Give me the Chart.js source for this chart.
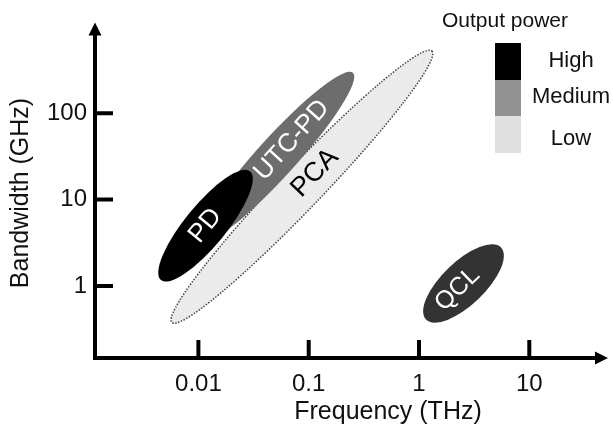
<!DOCTYPE html>
<html><head><meta charset="utf-8">
<script src="https://cdn.jsdelivr.net/npm/chart.js@4/dist/chart.umd.min.js"></script>
<style>html,body{margin:0;padding:0;background:#fff}#wrap{width:613px;height:436px}</style>
</head><body><div id="wrap"><canvas id="c" width="613" height="436"></canvas></div>
<script>
// ---- data ----
const sources   = ['PCA', 'UTC-PD', 'PD', 'QCL'];     // drawing order (bottom to top)
const freqLow   = [0.00576, 0.01035, 0.00458, 1.157];  // THz, lower-left end of each region
const bwLow     = [0.378,   3.27,    1.17,    0.409];  // GHz
const freqHigh  = [1.31,    0.252,   0.0294,  5.54];   // THz, upper-right end of each region
const bwHigh    = [525,     294,     21.2,    2.79];   // GHz
const xTicks    = [0.01, 0.1, 1, 10];
const xTickLabels = ['0.01', '0.1', '1', '10'];
const yTicks    = [1, 10, 100];
const yTickLabels = ['1', '10', '100'];
const powerLevels = ['High', 'Medium', 'Low'];
const xTitle = 'Frequency (THz)';
const yTitle = 'Bandwidth (GHz)';
const legendTitle = 'Output power';

// ---- styles ----
const FONT = "'Liberation Sans', Arial, Helvetica, sans-serif";
const regionStyle = {
  'PCA':    {fill:'#ebebeb', text:'#000', thick:42, t:0.55, size:27, dotted:true},
  'UTC-PD': {fill:'#6d6d6d', text:'#fff', thick:39, t:0.60, size:26},
  'PD':     {fill:'#000000', text:'#fff', thick:41, t:0.50, size:26},
  'QCL':    {fill:'#333333', text:'#fff', thick:43, t:0.42, size:25}
};
const levelColors = ['#000000', '#929292', '#e0e0e0'];

const drawPlugin = {
  id: 'regions',
  beforeDatasetsDraw(chart) {
    const ctx = chart.ctx, xs = chart.scales.x, ys = chart.scales.y;
    const geo = sources.map((n, i) => {
      const x1 = xs.getPixelForValue(freqLow[i]), y1 = ys.getPixelForValue(bwLow[i]);
      const x2 = xs.getPixelForValue(freqHigh[i]), y2 = ys.getPixelForValue(bwHigh[i]);
      return {x1, y1, x2, y2, cx:(x1+x2)/2, cy:(y1+y2)/2, a:Math.hypot(x2-x1, y2-y1)/2, ang:Math.atan2(y2-y1, x2-x1)};
    });
    ctx.save();
    sources.forEach((n, i) => {
      const g = geo[i], st = regionStyle[n];
      ctx.beginPath();
      ctx.ellipse(g.cx, g.cy, g.a, st.thick/2, g.ang, 0, Math.PI*2);
      ctx.fillStyle = st.fill;
      ctx.fill();
      if (st.dotted) {
        ctx.setLineDash([1.5, 1.5]);
        ctx.lineWidth = 1.5;
        ctx.strokeStyle = '#444';
        ctx.stroke();
        ctx.setLineDash([]);
      }
    });
    sources.forEach((n, i) => {
      const g = geo[i], st = regionStyle[n];
      const px = g.x1 + (g.x2 - g.x1)*st.t, py = g.y1 + (g.y2 - g.y1)*st.t;
      ctx.save();
      ctx.translate(px, py);
      ctx.rotate(g.ang);
      ctx.font = st.size + 'px ' + FONT;
      ctx.fillStyle = st.text;
      ctx.textAlign = 'center';
      ctx.textBaseline = 'middle';
      ctx.fillText(n, 0, 0);
      ctx.restore();
    });
    ctx.restore();
  },
  afterDraw(chart) {
    const ctx = chart.ctx, xs = chart.scales.x, ys = chart.scales.y, ca = chart.chartArea;
    ctx.save();
    ctx.strokeStyle = '#000'; ctx.fillStyle = '#000';
    ctx.lineWidth = 4; ctx.lineCap = 'butt';
    // axes
    ctx.beginPath();
    ctx.moveTo(ca.left, ca.bottom + 2); ctx.lineTo(ca.left, ca.top + 10);
    ctx.moveTo(ca.left - 2, ca.bottom); ctx.lineTo(ca.right - 10, ca.bottom);
    ctx.stroke();
    // arrows
    ctx.beginPath();
    ctx.moveTo(ca.left, ca.top); ctx.lineTo(ca.left - 6.5, ca.top + 13); ctx.lineTo(ca.left + 6.5, ca.top + 13); ctx.closePath();
    ctx.fill();
    ctx.beginPath();
    ctx.moveTo(ca.right, ca.bottom); ctx.lineTo(ca.right - 13, ca.bottom - 6.5); ctx.lineTo(ca.right - 13, ca.bottom + 6.5); ctx.closePath();
    ctx.fill();
    // tick marks (inside)
    ctx.beginPath();
    yTicks.forEach(v => { const p = ys.getPixelForValue(v); ctx.moveTo(ca.left, p); ctx.lineTo(ca.left + 18, p); });
    xTicks.forEach(v => { const p = xs.getPixelForValue(v); ctx.moveTo(p, ca.bottom); ctx.lineTo(p, ca.bottom - 18); });
    ctx.stroke();
    // axis titles
    ctx.font = '25px ' + FONT;
    ctx.textAlign = 'center'; ctx.textBaseline = 'middle';
    ctx.fillStyle = '#111';
    ctx.fillText(xTitle, 388, 412);
    ctx.save(); ctx.translate(21, 193); ctx.rotate(-Math.PI/2); ctx.fillText(yTitle, 0, 0); ctx.restore();
    // legend
    ctx.font = '21px ' + FONT;
    ctx.fillText(legendTitle, 505, 21);
    const boxTops = [43, 80, 116, 153];
    const labelY = [61, 97, 139];
    ctx.font = '22px ' + FONT;
    powerLevels.forEach((lv, i) => {
      ctx.fillStyle = levelColors[i];
      ctx.fillRect(495, boxTops[i], 26, boxTops[i+1] - boxTops[i]);
      ctx.fillStyle = '#111';
      ctx.fillText(lv, 571, labelY[i]);
    });
    ctx.restore();
  }
};

new Chart(document.getElementById('c').getContext('2d'), {
  type: 'scatter',
  data: {
    datasets: sources.map((n, i) => ({
      label: n,
      data: [{x: freqLow[i], y: bwLow[i]}, {x: freqHigh[i], y: bwHigh[i]}],
      pointRadius: 0, showLine: false
    }))
  },
  options: {
    responsive: false, animation: false, devicePixelRatio: 1,
    layout: {padding: {left: 0, right: 5, top: 18, bottom: 0}},
    plugins: {legend: {display: false}, tooltip: {enabled: false}},
    scales: {
      x: {
        type: 'logarithmic', min: 0.001155, max: 51.7,
        grid: {display: false, drawTicks: false}, border: {display: false},
        afterBuildTicks: s => { s.ticks = xTicks.map(v => ({value: v})); },
        afterFit: s => { s.height = 78; },
        ticks: {color: '#111', font: {family: FONT, size: 24}, padding: 12, maxRotation: 0, autoSkip: false,
                callback: (v, i) => xTickLabels[i]}
      },
      y: {
        type: 'logarithmic', min: 0.1465, max: 1125,
        grid: {display: false, drawTicks: false}, border: {display: false},
        afterBuildTicks: s => { s.ticks = yTicks.map(v => ({value: v})); },
        afterFit: s => { s.width = 95; },
        ticks: {color: '#111', font: {family: FONT, size: 24}, padding: 8, autoSkip: false,
                callback: (v, i) => yTickLabels[i]}
      }
    }
  },
  plugins: [drawPlugin]
});
</script></body></html>
